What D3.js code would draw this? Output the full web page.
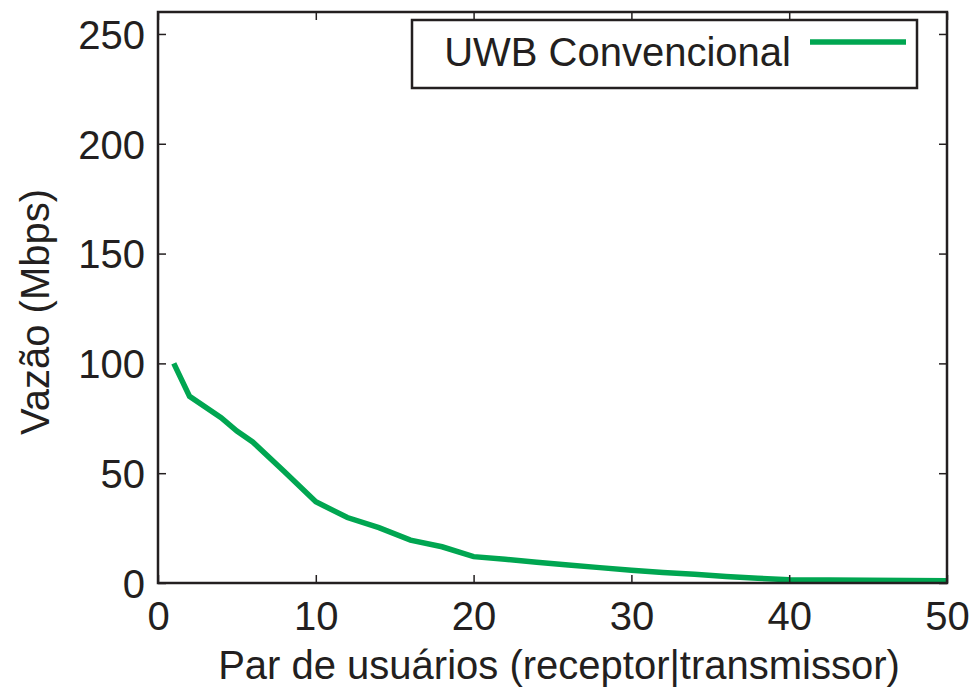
<!DOCTYPE html>
<html><head><meta charset="utf-8">
<script src="https://cdn.jsdelivr.net/npm/d3@7"></script>
<style>body{margin:0;background:#fff}svg{display:block}text{font-family:"Liberation Sans",Arial,sans-serif;fill:#231f20}</style>
</head><body>
<script>
const xValues = [1, 2, 4, 5, 6, 8, 10, 12, 14, 16, 18, 20, 22, 24, 26, 28, 30, 32, 34, 36, 38, 40, 45, 50];
const yValues = [100, 85, 75.3, 69.2, 64.2, 50.8, 37, 29.8, 25.2, 19.5, 16.5, 12, 10.8, 9.5, 8.2, 7, 5.8, 4.8, 4, 3, 2.2, 1.5, 1.2, 1];
const xTicks = [0, 10, 20, 30, 40, 50];
const yTicks = [0, 50, 100, 150, 200, 250];
const seriesName = "UWB Convencional";
const xTitle = "Par de usuários (receptor|transmissor)";
const yTitle = "Vazão (Mbps)";

const W = 979, H = 691;
const m = {left: 158, right: 947, top: 12, bottom: 583};
const svg = d3.select("body").append("svg").attr("width", W).attr("height", H);
const x = d3.scaleLinear().domain([0, 50]).range([m.left, m.right]);
const y = d3.scaleLinear().domain([0, 260]).range([m.bottom, m.top]);
const ink = "#231f20", tickLen = 8;

// line
const data = xValues.map((v, i) => [v, yValues[i]]);
svg.append("path").datum(data)
  .attr("d", d3.line().x(d => x(d[0])).y(d => y(d[1])))
  .attr("fill", "none").attr("stroke", "#00a651").attr("stroke-width", 5.5)
  .attr("stroke-linejoin", "miter");

// axes (inward ticks, mirrored)
const axB = svg.append("g").attr("transform", `translate(0,${m.bottom})`)
  .call(d3.axisBottom(x).tickValues(xTicks).tickSizeInner(-tickLen).tickSizeOuter(0).tickPadding(19));
const axT = svg.append("g").attr("transform", `translate(0,${m.top})`)
  .call(d3.axisTop(x).tickValues(xTicks).tickSizeInner(-tickLen).tickSizeOuter(0).tickFormat(""));
const axL = svg.append("g").attr("transform", `translate(${m.left},0)`)
  .call(d3.axisLeft(y).tickValues(yTicks).tickSizeInner(-tickLen).tickSizeOuter(0).tickPadding(13));
const axR = svg.append("g").attr("transform", `translate(${m.right},0)`)
  .call(d3.axisRight(y).tickValues(yTicks).tickSizeInner(-tickLen).tickSizeOuter(0).tickFormat(""));
[axB, axT, axL, axR].forEach(g => {
  g.select(".domain").remove();
  g.selectAll(".tick line").attr("stroke", ink).attr("stroke-width", 1.5);
  g.selectAll("text").style("font-size", "40px").attr("fill", ink);
});
axL.selectAll("text").attr("dy", "0.36em");

// frame
svg.append("rect").attr("x", m.left).attr("y", m.top)
  .attr("width", m.right - m.left).attr("height", m.bottom - m.top)
  .attr("fill", "none").attr("stroke", ink).attr("stroke-width", 2.5);

// legend
const lg = svg.append("g");
lg.append("rect").attr("x", 412).attr("y", 20).attr("width", 505).attr("height", 68)
  .attr("fill", "#fff").attr("stroke", ink).attr("stroke-width", 2.5);
lg.append("text").attr("x", 791).attr("y", 66).attr("text-anchor", "end")
  .style("font-size", "40px").text(seriesName);
lg.append("line").attr("x1", 810).attr("x2", 906).attr("y1", 42).attr("y2", 42)
  .attr("stroke", "#00a651").attr("stroke-width", 5.5);

// titles
svg.append("text").attr("x", 559).attr("y", 679).attr("text-anchor", "middle")
  .style("font-size", "40px").text(xTitle);
svg.append("text").attr("transform", "translate(49,312) rotate(-90)").attr("text-anchor", "middle")
  .style("font-size", "40px").text(yTitle);
</script>
</body></html>
